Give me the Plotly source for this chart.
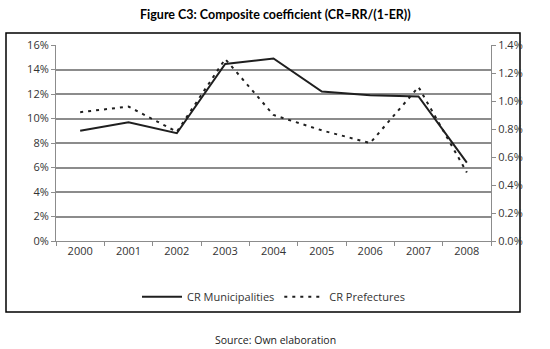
import plotly.graph_objects as go

years = ["2000", "2001", "2002", "2003", "2004", "2005", "2006", "2007", "2008"]
cr_municipalities = [0.090, 0.097, 0.088, 0.1445, 0.149, 0.122, 0.119, 0.118, 0.064]
cr_prefectures = [0.0092, 0.0096, 0.0078, 0.0130, 0.0090, 0.0079, 0.0070, 0.0110, 0.0049]
left_ticks = [0, 0.02, 0.04, 0.06, 0.08, 0.10, 0.12, 0.14, 0.16]
right_ticks = [0, 0.002, 0.004, 0.006, 0.008, 0.010, 0.012, 0.014]

tick_font = dict(family="Open Sans, Lato, sans-serif", size=11, color="#333333")

fig = go.Figure()
fig.add_trace(go.Scatter(
    x=years, y=cr_municipalities, name="CR Municipalities", mode="lines",
    line=dict(color="#1f1f1f", width=2), yaxis="y"))
fig.add_trace(go.Scatter(
    x=years, y=cr_prefectures, name="CR Prefectures", mode="lines",
    line=dict(color="#1f1f1f", width=2, dash="3px,5px"), yaxis="y2"))

fig.update_layout(
    width=550, height=349,
    margin=dict(l=56, r=59, t=45, b=108, autoexpand=False),
    paper_bgcolor="white", plot_bgcolor="white",
    showlegend=True,
    legend=dict(orientation="h", x=0.5, xanchor="center", y=-0.285, yanchor="middle",
                font=dict(family="Open Sans, Lato, sans-serif", size=11, color="#333333"),
                itemwidth=40, tracegroupgap=0, bgcolor="rgba(0,0,0,0)"),
    xaxis=dict(type="category", tickson="boundaries", ticks="outside", ticklen=4,
               tickcolor="#8c8c8c", showline=True, linecolor="#8c8c8c", linewidth=1,
               showgrid=False, tickfont=tick_font, range=[-0.5, 8.5]),
    yaxis=dict(range=[0, 0.16], tickvals=left_ticks, tickformat=".0%",
               showgrid=True, gridcolor="#8c8c8c", gridwidth=1.5,
               showline=True, linecolor="#8c8c8c", ticks="outside", ticklen=4,
               tickcolor="#8c8c8c", tickfont=tick_font, zeroline=False),
    yaxis2=dict(range=[0, 0.014], tickvals=right_ticks, tickformat=".1%",
                overlaying="y", side="right", showgrid=False,
                showline=True, linecolor="#8c8c8c", ticks="outside", ticklen=4,
                tickcolor="#8c8c8c", tickfont=tick_font, zeroline=False),
    annotations=[
        dict(text="<b>Figure C3: Composite coefficient (CR=RR/(1-ER))</b>",
             xref="paper", yref="paper", x=0.505, y=(241 - 15) / 196,
             xanchor="center", yanchor="middle", showarrow=False,
             font=dict(family="Lato, sans-serif", size=12.5, color="black")),
        dict(text="Source: Own elaboration",
             xref="paper", yref="paper", x=0.505, y=(241 - 340) / 196,
             xanchor="center", yanchor="middle", showarrow=False,
             font=dict(family="Open Sans, sans-serif", size=10.5, color="#222222")),
    ],
    shapes=[
        dict(type="rect", xref="paper", yref="paper",
             x0=(6 - 56) / 435, x1=(520 - 56) / 435,
             y0=(241 - 312) / 196, y1=(241 - 33) / 196,
             line=dict(color="black", width=1.5), fillcolor="rgba(0,0,0,0)", layer="below"),
    ],
)

fig.write_html("out.html", config={"displayModeBar": False},
               post_script="document.body.style.margin='0';")
